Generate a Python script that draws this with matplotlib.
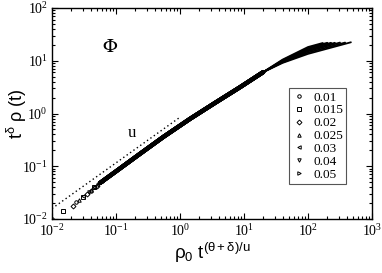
import matplotlib
matplotlib.use("Agg")
import matplotlib.pyplot as plt
from matplotlib.ticker import LogLocator, NullFormatter

plt.rcParams['font.family'] = ['Liberation Serif', 'DejaVu Serif']
plt.rcParams['mathtext.fontset'] = 'custom'
plt.rcParams['mathtext.rm'] = 'Liberation Sans'
plt.rcParams['mathtext.it'] = 'Liberation Sans'
plt.rcParams['mathtext.bf'] = 'Liberation Sans:bold'

# densities (legend) and markers
densities = ['0.01', '0.015', '0.02', '0.025', '0.03', '0.04', '0.05']
markers = ['o', 's', 'D', '^', '<', 'v', '>']

# first, well separated points of every series
x_low = [[0.010, 0.024, 0.040],
         [0.015, 0.030, 0.046],
         [0.021, 0.035, 0.050],
         [0.026, 0.041],
         [0.031, 0.046],
         [0.038, 0.052],
         [0.047, 0.060]]
y_low = [[0.0098, 0.021, 0.034],
         [0.014, 0.026, 0.040],
         [0.018, 0.030, 0.043],
         [0.023, 0.035],
         [0.027, 0.040],
         [0.033, 0.045],
         [0.041, 0.051]]

# collapsed part of the curves
x_mid = [0.056, 0.10, 0.237, 0.55, 1.43, 3.5, 8.7, 20.0]
y_mid = [0.048, 0.080, 0.172, 0.36, 0.79, 1.58, 3.16, 6.1]

# tails, where the curves split
x_tail = [[40, 100, 170], [40, 100, 200], [40, 100, 229], [40, 100, 263],
          [40, 100, 316], [40, 100, 380], [40, 100, 468]]
y_tail = [[10.5, 18.2, 21.7], [10.2, 17.4, 21.9], [10.0, 16.6, 21.9],
          [9.8, 15.8, 21.9], [9.5, 15.1, 22.1], [9.3, 14.3, 22.1],
          [9.1, 13.5, 22.4]]

# slope u guide line
x_guide = [0.01, 1.0]
y_guide = [0.0158, 0.85]

fig = plt.figure(figsize=(3.82, 2.73), dpi=100)
ax = fig.add_axes([52/382, 54/273, 320/382, 211/273])

for i in range(len(densities)):
    ax.plot(x_mid, y_mid, color='k', lw=3.0, solid_capstyle='round')
    ax.plot([x_mid[-1]] + x_tail[i], [y_mid[-1]] + y_tail[i], color='k',
            lw=1.3, solid_capstyle='round')
    ax.plot(x_low[i], y_low[i], ls='none', marker=markers[i], ms=2.5,
            mfc='none', mec='k', mew=0.7, label=densities[i])

ax.plot(x_guide, y_guide, color='k', lw=1.0, ls=(0, (1, 2)))

ax.set_xscale('log')
ax.set_yscale('log')
ax.set_xlim(1e-2, 1e3)
ax.set_ylim(1e-2, 1e2)
ax.xaxis.set_minor_locator(LogLocator(base=10, subs=range(2, 10), numticks=20))
ax.yaxis.set_minor_locator(LogLocator(base=10, subs=range(2, 10), numticks=20))
ax.xaxis.set_minor_formatter(NullFormatter())
ax.yaxis.set_minor_formatter(NullFormatter())
ax.tick_params(which='both', direction='in', top=True, right=True, width=0.8)
ax.tick_params(which='major', length=4.5, labelsize=10, pad=3)
ax.tick_params(which='minor', length=2.2)
for s in ax.spines.values():
    s.set_linewidth(1.0)

ax.text(0.181, 0.815, r'$\Phi$', transform=ax.transAxes, fontsize=14,
        ha='center', va='center', math_fontfamily='stix')
ax.text(0.25, 0.408, 'u', transform=ax.transAxes, fontsize=12,
        ha='center', va='center')

ax.set_xlabel(r'$\rho_0\ \mathrm{t}^{(\theta+\delta)/u}$', fontsize=13.5,
              math_fontfamily='custom')
ax.xaxis.set_label_coords(0.5, -0.105)
ax.set_ylabel(r'$\mathrm{t}^{\delta}\ \rho\ (\mathrm{t})$', fontsize=13,
              math_fontfamily='custom')
ax.yaxis.set_label_coords(-0.072, 0.5)

leg = ax.legend(loc='upper left', bbox_to_anchor=(0.74, 0.621),
                fontsize=9.5, frameon=True, fancybox=False, framealpha=1,
                edgecolor='#555555', handlelength=1.0, handletextpad=0.6,
                labelspacing=0.05, borderpad=0.25, borderaxespad=0)
leg.get_frame().set_linewidth(0.8)

fig.savefig('out.png', dpi=100)
